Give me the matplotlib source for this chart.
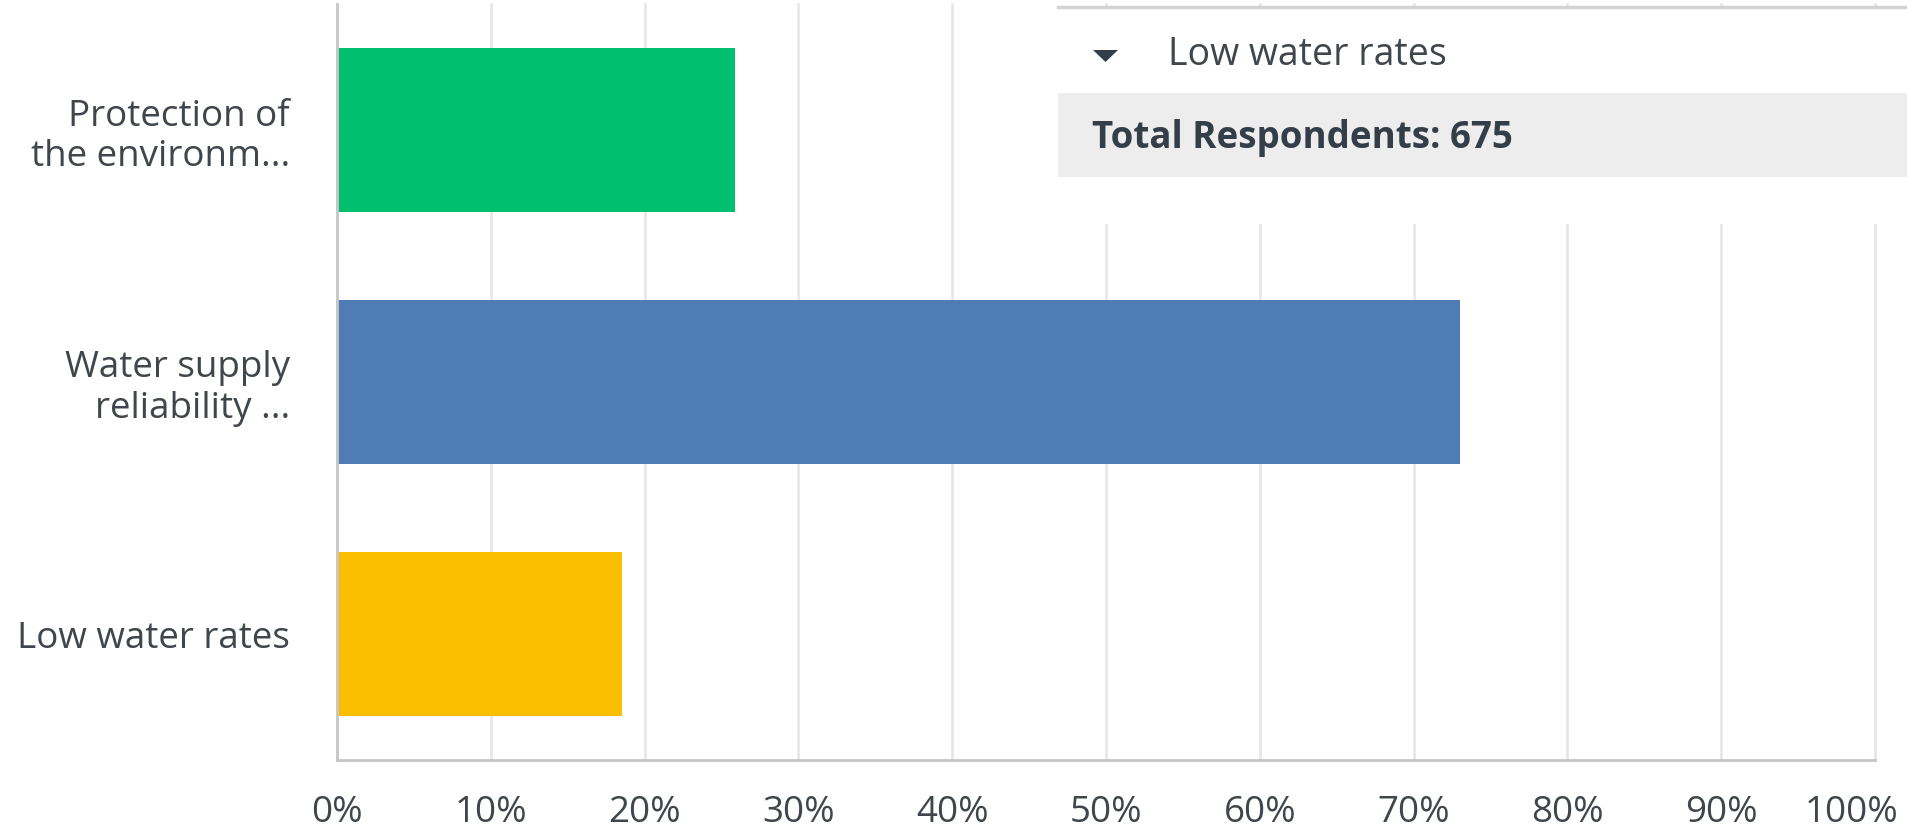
import matplotlib
matplotlib.use("Agg")
import matplotlib.pyplot as plt
import matplotlib.transforms as mtransforms
from matplotlib.patches import Rectangle, Polygon

# data
categories = ["Protection of\nthe environm...", "Water supply\nreliability ...", "Low water rates"]
percent = [25.9, 73.0, 18.5]
bar_colors = ["#00bf6f", "#507cb6", "#f9be00"]
xticks = [0, 10, 20, 30, 40, 50, 60, 70, 80, 90, 100]
xtick_labels = [str(t) + "%" for t in xticks]
tooltip_title = "Low water rates"
tooltip_total = "Total Respondents: 675"

plt.rcParams['font.family'] = ['Open Sans', 'DejaVu Sans']
text_col = "#41464c"
dark_col = "#333e48"

W, H = 1908, 836
fig = plt.figure(figsize=(W / 100, H / 100), dpi=100)
fig.patch.set_facecolor("white")


def fx(x):
    return x / W


def fy(y):
    return 1 - y / H


ax = fig.add_axes([fx(337), fy(760), (1875 - 337) / W, (760 - 4) / H])
ypos = list(range(len(categories)))
ax.barh(ypos, percent, height=0.65, color=bar_colors, zorder=2)
ax.set_xlim(0, 100)
ax.set_ylim(len(categories) - 0.5, -0.5)

ax.set_xticks(xticks)
ax.set_xticklabels(xtick_labels)
ax.set_yticks(ypos)
ax.set_yticklabels(categories, linespacing=1.15)
ax.tick_params(axis="both", length=0, labelsize=26.5, labelcolor=text_col)
ax.tick_params(axis="x", pad=25)
ax.tick_params(axis="y", pad=34)

ax.grid(axis="x", color="#e5e5e5", linewidth=1.8, zorder=0)
for gl in ax.get_xgridlines():
    gl.set_clip_on(False)
ax.grid(axis="y", visible=False)
for s in ["top", "right"]:
    ax.spines[s].set_visible(False)
for s in ["left", "bottom"]:
    ax.spines[s].set_color("#c6c6c6")
    ax.spines[s].set_linewidth(2)

# last tick label is pulled inside the frame
last = ax.get_xticklabels()[-1]
last.set_transform(last.get_transform() +
                   mtransforms.ScaledTranslation(-23 / 100, 0, fig.dpi_scale_trans))

# tooltip box on top of the chart
fig.add_artist(Rectangle((fx(1058), fy(224)), (W - 1058) / W, (224 - 7) / H,
                         transform=fig.transFigure, facecolor="white",
                         edgecolor="none", zorder=5))
fig.add_artist(Rectangle((fx(1058), fy(177)), (W - 1058) / W, (177 - 93) / H,
                         transform=fig.transFigure, facecolor="#ededed",
                         edgecolor="none", zorder=6))
fig.add_artist(plt.Line2D([fx(1058), 1], [fy(7), fy(7)], transform=fig.transFigure,
                          color="#d3d3d3", linewidth=2.5, zorder=6))
fig.add_artist(Polygon([(fx(1093), fy(50)), (fx(1118), fy(50)), (fx(1105.5), fy(62))],
                       closed=True, transform=fig.transFigure,
                       facecolor=dark_col, edgecolor="none", zorder=7))
fig.text(fx(1168), fy(65), tooltip_title, fontsize=27, color=text_col,
         ha="left", va="baseline", zorder=7)
fig.text(fx(1092), fy(148), tooltip_total, fontsize=26.5, color=dark_col,
         fontweight="bold", ha="left", va="baseline", zorder=7)

fig.savefig("out.png", dpi=100)
